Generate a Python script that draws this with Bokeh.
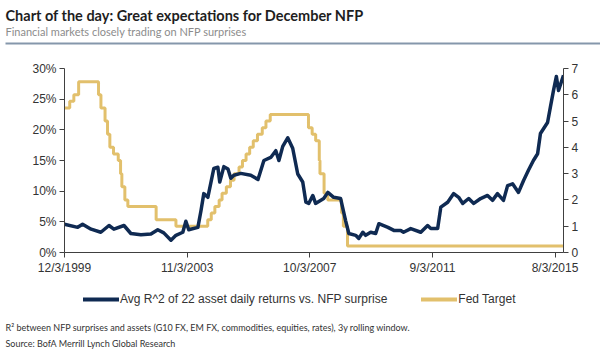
import pandas as pd
from bokeh.plotting import figure
from bokeh.layouts import column
from bokeh.models import (Range1d, LinearAxis, FixedTicker, PrintfTickFormatter,
                          Legend, LegendItem)
from bokeh.core.properties import value
from bokeh.embed import file_html
from bokeh.resources import INLINE

# ---------------- data ----------------
r2_dates = ["1999-12-03", "2000-05-05", "2000-07-01", "2000-10-08", "2001-01-30",
            "2001-05-05", "2001-07-01", "2001-10-27", "2002-01-15", "2002-05-12",
            "2002-09-06", "2002-11-25", "2003-02-03", "2003-04-28", "2003-06-25",
            "2003-09-13", "2003-10-19", "2003-11-21", "2004-03-07", "2004-04-12",
            "2004-05-15", "2004-07-01", "2004-09-09", "2004-10-26", "2004-11-17",
            "2005-01-04", "2005-02-21", "2005-03-26", "2005-05-01", "2005-07-20",
            "2005-11-14", "2006-02-06", "2006-04-16", "2006-07-05", "2006-09-02",
            "2006-10-08", "2006-11-22", "2007-01-19", "2007-03-18", "2007-05-16",
            "2007-07-13", "2007-08-19", "2007-09-21", "2007-11-07", "2007-12-10",
            "2008-03-14", "2008-05-01", "2008-07-08", "2008-09-27", "2008-11-24",
            "2009-01-01", "2009-03-22", "2009-04-27", "2009-06-13", "2009-07-16",
            "2009-09-13", "2009-11-10", "2009-12-17", "2010-04-02", "2010-06-10",
            "2010-08-29", "2010-10-01", "2010-12-24", "2011-04-20", "2011-07-09",
            "2011-08-15", "2011-11-03", "2011-12-10", "2012-02-28", "2012-05-08",
            "2012-07-05", "2012-08-22", "2012-10-30", "2012-12-28", "2013-03-18",
            "2013-06-07", "2013-08-04", "2013-10-01", "2013-12-10", "2014-01-27",
            "2014-03-26", "2014-06-03", "2014-07-31", "2014-09-27", "2014-11-24",
            "2015-01-12", "2015-02-14", "2015-05-08", "2015-06-10", "2015-07-16",
            "2015-08-19", "2015-09-13", "2015-11-10"]
r2_values = [4.6, 4.1, 4.6, 3.8, 3.3,
             4.4, 3.8, 4.4, 3.1, 2.9,
             3.0, 3.7, 3.2, 2.0, 2.8,
             3.3, 5.1, 3.7, 4.1, 6.8,
             9.6, 9.0, 13.7, 13.9, 11.5,
             14.0, 13.6, 12.1, 12.6, 12.9,
             12.6, 11.9, 15.0, 15.5, 16.6,
             15.0, 17.3, 18.7, 17.0, 12.8,
             11.5, 8.2, 8.0, 9.3, 8.0,
             8.8, 9.8, 9.0, 8.8, 5.2,
             3.1, 2.8, 2.3, 3.3, 2.8,
             3.3, 3.1, 4.7, 4.1, 3.6,
             3.6, 3.3, 3.9, 3.3, 4.4,
             3.9, 3.9, 7.4, 8.2, 9.6,
             9.0, 8.0, 8.8, 8.0, 8.8,
             9.3, 8.5, 9.6, 8.5, 10.9,
             11.2, 9.8, 11.7, 13.4, 15.0,
             16.1, 19.4, 21.2, 23.7, 26.4,
             28.7, 26.4, 28.9]

fed_dates = ["1999-12-03", "2000-02-02", "2000-03-21", "2000-05-16", "2001-01-03",
             "2001-01-31", "2001-03-20", "2001-04-18", "2001-05-15", "2001-06-27",
             "2001-08-21", "2001-09-17", "2001-10-02", "2001-11-06", "2001-12-11",
             "2002-11-06", "2003-06-25", "2004-06-30", "2004-08-10", "2004-09-21",
             "2004-11-10", "2004-12-14", "2005-02-02", "2005-03-22", "2005-05-03",
             "2005-06-30", "2005-08-09", "2005-09-20", "2005-11-01", "2005-12-13",
             "2006-01-31", "2006-03-28", "2006-05-10", "2006-06-29", "2007-09-18",
             "2007-10-31", "2007-12-11", "2008-01-22", "2008-01-30", "2008-03-18",
             "2008-04-30", "2008-10-08", "2008-10-29", "2008-12-16", "2015-11-10"]
fed_values = [5.5, 5.75, 6.0, 6.5, 6.0,
              5.5, 5.0, 4.5, 4.0, 3.75,
              3.5, 3.0, 2.5, 2.0, 1.75,
              1.25, 1.0, 1.25, 1.5, 1.75,
              2.0, 2.25, 2.5, 2.75, 3.0,
              3.25, 3.5, 3.75, 4.0, 4.25,
              4.5, 4.75, 5.0, 5.25, 4.75,
              4.5, 4.25, 3.5, 3.0, 2.25,
              2.0, 1.5, 1.0, 0.25, 0.25]

x_tick_dates = ["1999-12-03", "2003-11-03", "2007-10-03", "2011-09-03", "2015-08-03"]
x_tick_labels = ["12/3/1999", "11/3/2003", "10/3/2007", "9/3/2011", "8/3/2015"]
left_ticks = [0, 5, 10, 15, 20, 25, 30]
right_ticks = [0, 1, 2, 3, 4, 5, 6, 7]

title_text = "Chart of the day: Great expectations for December NFP"
subtitle_text = "Financial markets closely trading on NFP surprises"
note_text = "R\u00b2 between NFP surprises and assets (G10 FX, EM FX, commodities, equities, rates), 3y rolling window."
source_text = "Source: BofA Merrill Lynch Global Research"
r2_label = "Avg R^2 of 22 asset daily returns vs. NFP surprise"
fed_label = "Fed Target"

NAVY = "#0f2a52"
GOLD = "#e2c06c"
AXIS = "#404040"
TXT = "#333333"


def blank(h):
    f = figure(width=600, height=h, output_backend="svg", toolbar_location=None,
               x_range=Range1d(0, 600), y_range=Range1d(h, 0),
               x_axis_location=None, y_axis_location=None,
               min_border=0, outline_line_color=None, frame_align=False)
    f.grid.visible = False
    return f


# ---------------- header ----------------
top = blank(50)
top.text(x=[5], y=[15], text=[title_text], text_font=value("Lato"),
         text_font_size="14.5px", text_font_style="bold", text_color="#1e1e1e",
         text_baseline="middle")
top.text(x=[5], y=[31], text=[subtitle_text], text_font=value("Lato"),
         text_font_size="11px", text_color="#8c8c8c", text_baseline="middle")
top.segment(x0=[5], y0=[43], x1=[600], y1=[43], line_color="#8597ab", line_width=2)

# ---------------- main chart ----------------
r2_x = pd.to_datetime(r2_dates)
fed_x = pd.to_datetime(fed_dates)
tick_ms = [pd.Timestamp(d).value / 1e6 for d in x_tick_dates]

p = figure(width=600, height=230, x_axis_type="datetime",
           output_backend="svg", toolbar_location=None,
           x_range=Range1d(pd.Timestamp("1999-12-03"), pd.Timestamp("2015-11-10")),
           y_range=Range1d(0, 30), frame_align=False,
           min_border_left=64, min_border_right=37,
           min_border_top=18, min_border_bottom=28)
p.extra_y_ranges = {"fed": Range1d(0, 7)}
p.outline_line_color = None
p.grid.visible = False

p.yaxis.ticker = FixedTicker(ticks=left_ticks)
p.yaxis.formatter = PrintfTickFormatter(format="%d%%")
p.xaxis.ticker = FixedTicker(ticks=tick_ms)
p.xaxis.major_label_overrides = {t: l for t, l in zip(tick_ms, x_tick_labels)}
right = LinearAxis(y_range_name="fed", ticker=FixedTicker(ticks=right_ticks))
p.add_layout(right, "right")

for ax in [p.xaxis[0], p.yaxis[0], right]:
    ax.axis_line_color = AXIS
    ax.axis_line_width = 1
    ax.major_tick_line_color = AXIS
    ax.major_tick_out = 5
    ax.major_tick_in = 0
    ax.minor_tick_line_color = None
    ax.major_label_text_font = "Liberation Sans"
    ax.major_label_text_font_size = "12px"
    ax.major_label_text_color = TXT
    ax.major_label_standoff = 3

p.step(fed_x, fed_values, mode="after", y_range_name="fed",
       line_color=GOLD, line_width=3)
p.line(r2_x, r2_values, line_color=NAVY, line_width=3.5, line_join="round")

# ---------------- legend + footer ----------------
bottom = blank(76)
# legend proxies: styled like the series, drawn off the visible area
lg_r2 = bottom.line(x=[-50, -40], y=[-50, -50], line_color=NAVY, line_width=4,
                    line_cap="round")
lg_fed = bottom.line(x=[-50, -40], y=[-50, -50], line_color=GOLD, line_width=4,
                     line_cap="round")
legend = Legend(items=[LegendItem(label=r2_label, renderers=[lg_r2]),
                       LegendItem(label=fed_label, renderers=[lg_fed])],
                orientation="horizontal", location=(83, 50),
                glyph_width=36, glyph_height=14, label_standoff=1, spacing=34,
                label_height=14,
                label_text_font="Liberation Sans", label_text_font_size="12px",
                label_text_color=TXT, border_line_color=None,
                background_fill_alpha=0, padding=0, margin=0)
bottom.add_layout(legend, "center")

bottom.text(x=[5], y=[47], text=[note_text], text_font=value("Lato"),
            text_font_size="9px", text_color=TXT, text_baseline="middle")
bottom.text(x=[5], y=[63], text=[source_text], text_font=value("Lato"),
            text_font_size="9px", text_color=TXT, text_baseline="middle")

layout = column(top, p, bottom, spacing=0)
open("out.html", "w").write(file_html(layout, INLINE))
